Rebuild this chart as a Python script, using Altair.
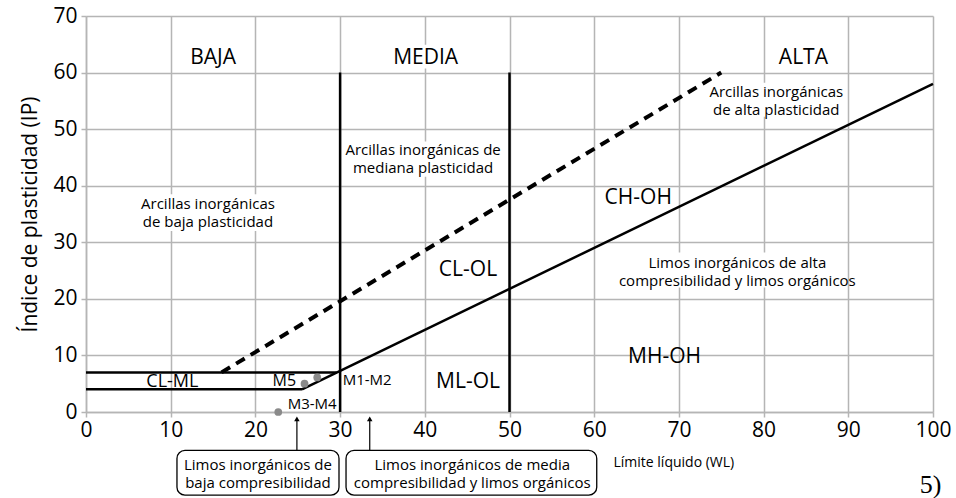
import altair as alt
import pandas as pd

FONT = "Open Sans"
GRID = "#b5b5b5"

# ---- chart lines (Casagrande plasticity chart) ----
seg_x1 = [0, 0, 25.5, 30, 50]
seg_y1 = [7, 4, 4, 0, 0]
seg_x2 = [29.6, 25.5, 100, 30, 50]
seg_y2 = [7, 4, 58, 60, 60]

dash_x1 = [16]
dash_y1 = [7]
dash_x2 = [75]
dash_y2 = [60]

# ---- samples ----
sample_names = ["M1-M2", "M5", "M3-M4"]
sample_wl = [27.3, 25.8, 22.7]
sample_ip = [6.1, 5.0, 0.0]

# sample label positions
lab_left_txt = ["M1-M2"]
lab_left_x = [30.3]
lab_left_y = [5.6]
lab_right_txt = ["M5"]
lab_right_x = [24.8]
lab_right_y = [5.4]
lab_center_txt = ["M3-M4"]
lab_center_x = [26.7]
lab_center_y = [1.4]

# ---- zone labels ----
zone_txt = ["BAJA", "MEDIA", "ALTA"]
zone_x = [15.0, 40.1, 84.7]
zone_y = [62.6, 62.6, 62.6]

class_txt = ["CH-OH", "CL-OL", "MH-OH", "ML-OL"]
class_x = [65.2, 45.1, 68.3, 45.1]
class_y = [37.8, 25.1, 9.7, 5.3]

clml_txt = ["CL-ML"]
clml_x = [10.2]
clml_y = [5.3]

note_txt = [
    "Arcillas inorgánicas\nde baja plasticidad",
    "Arcillas inorgánicas de\nmediana plasticidad",
    "Arcillas inorgánicas\nde alta plasticidad",
    "Limos inorgánicos de alta\ncompresibilidad y limos orgánicos",
    "Limos inorgánicos de\nbaja compresibilidad",
    "Limos inorgánicos de media\ncompresibilidad y limos orgánicos",
]
note_x = [14.4, 39.8, 81.5, 76.9, 20.3, 45.6]
note_y = [35.1, 44.7, 54.9, 24.8, -10.9, -10.9]

# white label backgrounds
bg_x1 = [6.0, 30.5, 73.0, 60.7, 36.0]
bg_x2 = [22.8, 49.5, 89.8, 89.6, 44.2]
bg_y1 = [32.0, 41.6, 52.2, 22.0, 60.7]
bg_y2 = [38.5, 47.8, 58.2, 28.2, 64.9]

# boxes below the axis
box_x1 = [10.74, 30.7]
box_x2 = [29.87, 60.3]
box_y1 = [-6.8, -6.8]
box_y2 = [-14.7, -14.7]

arrow_x = [24.9, 33.5]
arrow_y1 = [-6.8, -6.8]
arrow_y2 = [-1.2, -1.2]

src_txt = ["5)"]
src_x = [99.7]
src_y = [-12.9]

x_ticks = list(range(0, 101, 10))
y_ticks = list(range(0, 71, 10))

xs = alt.Scale(domain=[0, 100], nice=False, zero=False)
ys = alt.Scale(domain=[0, 70], nice=False, zero=False)

xaxis = alt.Axis(
    values=x_ticks, title="Límite líquido (WL)", titleX=527, titleY=50,
    titleAlign="left", titleBaseline="middle", titleFontSize=14,
    titleFontWeight="normal", titleFont=FONT, titleColor="black",
    labelFont=FONT, labelFontSize=21, labelColor="black", labelPadding=2,
    labelFlush=False, labelOverlap=False,
    tickSize=5, tickColor=GRID, tickWidth=1.5, domainColor=GRID, domainWidth=1.5,
    grid=True, gridColor=GRID, gridWidth=1.5,
)
yaxis = alt.Axis(
    values=y_ticks, title="Índice de plasticidad (IP)", titleFontSize=21,
    titleFontWeight="normal", titleFont=FONT, titleColor="black", titlePadding=12,
    labelFont=FONT, labelFontSize=21, labelColor="black", labelPadding=4,
    labelFlush=False, labelOverlap=False,
    tickSize=5, tickColor=GRID, tickWidth=1.5, domainColor=GRID, domainWidth=1.5,
    grid=True, gridColor=GRID, gridWidth=1.5,
)

X = alt.X("x:Q", scale=xs, axis=xaxis)
Y = alt.Y("y:Q", scale=ys, axis=yaxis)


def df(**kw):
    return pd.DataFrame(kw)


bg = alt.Chart(df(x=bg_x1, x2=bg_x2, y=bg_y1, y2=bg_y2)).mark_rect(
    color="white"
).encode(x=X, x2="x2:Q", y=Y, y2="y2:Q")

solid = alt.Chart(df(x=seg_x1, y=seg_y1, x2=seg_x2, y2=seg_y2)).mark_rule(
    color="black", strokeWidth=2.5
).encode(x=X, y=Y, x2="x2:Q", y2="y2:Q")

dashed = alt.Chart(df(x=dash_x1, y=dash_y1, x2=dash_x2, y2=dash_y2)).mark_rule(
    color="black", strokeWidth=4, strokeDash=[10, 7]
).encode(x=X, y=Y, x2="x2:Q", y2="y2:Q")

pts = alt.Chart(df(x=sample_wl, y=sample_ip, name=sample_names)).mark_circle(
    color="#8a8a8a", opacity=1, size=60
).encode(x=X, y=Y)


def text_layer(txts, xv, yv, size, align="center", font=FONT, dy=0):
    return alt.Chart(df(x=xv, y=yv, t=txts)).mark_text(
        font=font, fontSize=size, align=align, baseline="middle",
        color="black", lineBreak="\n", lineHeight=18, dy=dy
    ).encode(x=X, y=Y, text="t:N")


boxes = alt.Chart(df(x=box_x1, x2=box_x2, y=box_y1, y2=box_y2)).mark_rect(
    fill="white", stroke="black", strokeWidth=1.3, cornerRadius=8
).encode(x=X, x2="x2:Q", y=Y, y2="y2:Q")

arrows = alt.Chart(df(x=arrow_x, y=arrow_y1, y2=arrow_y2)).mark_rule(
    color="black", strokeWidth=1.2
).encode(x=X, y=Y, y2="y2:Q")

heads = alt.Chart(df(x=arrow_x, y=arrow_y2)).mark_point(
    shape="triangle-up", filled=True, color="black", opacity=1, size=30
).encode(x=X, y=Y)

chart = alt.layer(
    bg,
    solid,
    dashed,
    pts,
    text_layer(zone_txt, zone_x, zone_y, 21),
    text_layer(class_txt, class_x, class_y, 21),
    text_layer(clml_txt, clml_x, clml_y, 18),
    text_layer(lab_left_txt, lab_left_x, lab_left_y, 15, align="left"),
    text_layer(lab_right_txt, lab_right_x, lab_right_y, 16, align="right"),
    text_layer(lab_center_txt, lab_center_x, lab_center_y, 15),
    arrows,
    heads,
    boxes,
    text_layer(note_txt, note_x, note_y, 15, dy=-9),
    text_layer(src_txt, src_x, src_y, 26, font="Liberation Serif"),
).properties(
    width=847,
    height=396,
    autosize=alt.AutoSizeParams(type="none"),
    padding={"left": 86, "top": 16, "right": 23, "bottom": 86},
    background="white",
).configure_view(strokeWidth=0)

chart.save("out.html", embed_options={"renderer": "svg", "actions": False})
